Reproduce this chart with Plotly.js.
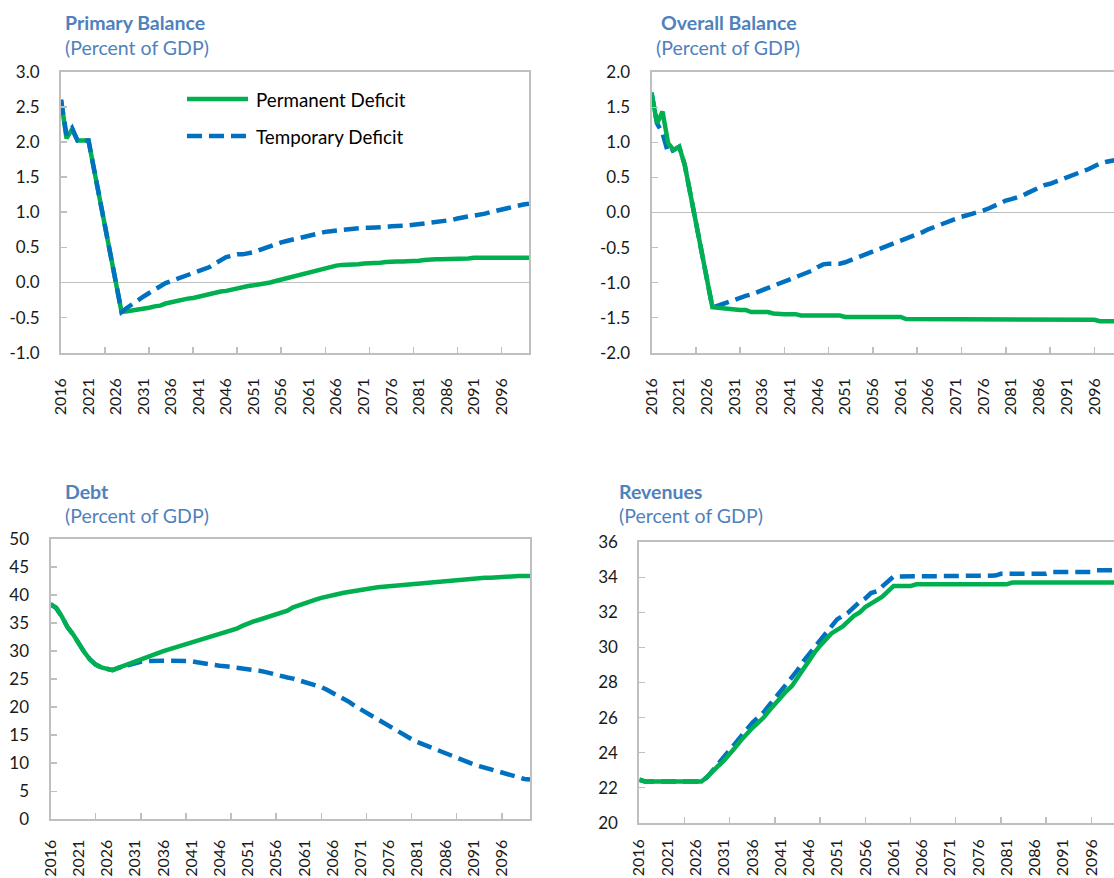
<!DOCTYPE html>
<html>
<head>
<meta charset="utf-8">
<script src="https://cdn.plot.ly/plotly-3.0.1.min.js"></script>
<style>
  html, body { margin: 0; padding: 0; background: #ffffff; overflow: hidden; }
  #chart { width: 1130px; height: 878px; }
</style>
</head>
<body>
<div id="chart"></div>
<script>
// ---------------- DATA ----------------
const YEARS = [2016,2017,2018,2019,2020,2021,2022,2023,2024,2025,
  2026,2027,2028,2029,2030,2031,2032,2033,2034,2035,
  2036,2037,2038,2039,2040,2041,2042,2043,2044,2045,
  2046,2047,2048,2049,2050,2051,2052,2053,2054,2055,
  2056,2057,2058,2059,2060,2061,2062,2063,2064,2065,
  2066,2067,2068,2069,2070,2071,2072,2073,2074,2075,
  2076,2077,2078,2079,2080,2081,2082,2083,2084,2085,
  2086,2087,2088,2089,2090,2091,2092,2093,2094,2095,
  2096,2097,2098,2099,2100,2101];

const LABEL_YEARS = [2016,2021,2026,2031,2036,2041,2046,2051,2056,2061,2066,2071,2076,2081,2086,2091,2096];
const TICK_YEARS = [2024,2032,2040,2048,2056,2064,2072,2080,2088,2096];

const SERIES_NAMES = ['Permanent Deficit', 'Temporary Deficit'];

// Primary balance (percent of GDP)
const PB_PERM = [2.60,2.05,2.18,2.02,2.02,2.02,1.61,1.21,0.80,0.39,
  -0.02,-0.42,-0.41,-0.40,-0.39,-0.37,-0.36,-0.34,-0.33,-0.30,
  -0.28,-0.27,-0.25,-0.23,-0.22,-0.20,-0.19,-0.17,-0.15,-0.13,
  -0.12,-0.10,-0.08,-0.07,-0.05,-0.04,-0.03,-0.02,0.00,0.02,
  0.04,0.06,0.08,0.10,0.12,0.15,0.17,0.18,0.20,0.23,
  0.24,0.25,0.25,0.25,0.26,0.27,0.27,0.27,0.28,0.29,
  0.30,0.30,0.30,0.30,0.30,0.31,0.32,0.33,0.33,0.33,
  0.33,0.33,0.33,0.33,0.34,0.35,0.35,0.35,0.35,0.35,
  0.35,0.35,0.35,0.35,0.35,0.35];
const PB_TEMP = [2.60,2.10,2.20,2.02,2.02,2.02,1.61,1.21,0.80,0.39,
  -0.02,-0.42,-0.36,-0.30,-0.25,-0.20,-0.15,-0.10,-0.05,-0.01,
  0.02,0.05,0.08,0.11,0.14,0.17,0.20,0.22,0.27,0.32,
  0.36,0.38,0.40,0.40,0.41,0.43,0.46,0.49,0.52,0.55,
  0.57,0.59,0.61,0.63,0.65,0.66,0.68,0.70,0.72,0.73,
  0.74,0.74,0.75,0.76,0.77,0.78,0.78,0.78,0.78,0.79,
  0.80,0.80,0.80,0.81,0.82,0.83,0.84,0.84,0.85,0.86,
  0.87,0.89,0.91,0.93,0.94,0.95,0.96,0.98,1.00,1.02,
  1.03,1.05,1.07,1.09,1.11,1.12];

// Overall balance (percent of GDP)
const OB_PERM = [1.71,1.27,1.44,0.99,0.89,0.94,0.68,0.28,-0.14,-0.52,
  -0.92,-1.35,-1.36,-1.37,-1.38,-1.39,-1.39,-1.39,-1.42,-1.42,
  -1.42,-1.42,-1.44,-1.45,-1.45,-1.45,-1.45,-1.47,-1.47,-1.47,
  -1.47,-1.47,-1.47,-1.47,-1.47,-1.49,-1.49,-1.49,-1.49,-1.49,
  -1.49,-1.49,-1.49,-1.49,-1.49,-1.49,-1.52,-1.52,-1.52,-1.52,
  -1.52,-1.52,-1.52,-1.52,-1.52,-1.52,-1.52,-1.52,-1.52,-1.52,
  -1.52,-1.52,-1.52,-1.52,-1.52,-1.52,-1.52,-1.52,-1.52,-1.52,
  -1.52,-1.52,-1.52,-1.52,-1.52,-1.52,-1.52,-1.52,-1.52,-1.52,
  -1.53,-1.55,-1.55,-1.55,-1.55,-1.55];
const OB_TEMP = [1.71,1.27,1.13,0.85,0.89,0.94,0.68,0.28,-0.14,-0.52,
  -0.92,-1.35,-1.33,-1.30,-1.27,-1.24,-1.21,-1.19,-1.17,-1.14,
  -1.11,-1.07,-1.04,-1.01,-0.98,-0.95,-0.92,-0.89,-0.86,-0.83,
  -0.78,-0.74,-0.73,-0.73,-0.73,-0.71,-0.68,-0.64,-0.61,-0.58,
  -0.55,-0.52,-0.49,-0.46,-0.44,-0.41,-0.38,-0.35,-0.31,-0.28,
  -0.24,-0.21,-0.18,-0.14,-0.11,-0.08,-0.06,-0.04,-0.02,0.00,
  0.03,0.06,0.10,0.14,0.17,0.19,0.21,0.24,0.28,0.32,
  0.36,0.39,0.41,0.44,0.47,0.50,0.53,0.55,0.58,0.62,
  0.66,0.70,0.72,0.74,0.75,0.76];

// Debt (percent of GDP)
const DEBT_PERM = [38.4,37.7,36.2,34.3,33.0,31.2,29.8,28.5,27.6,27.1,
  26.8,26.6,27.0,27.4,27.7,28.1,28.5,28.9,29.3,29.6,
  30.0,30.3,30.6,30.9,31.2,31.5,31.8,32.1,32.4,32.7,
  33.0,33.2,33.5,34.0,34.5,35.0,35.3,35.6,35.9,36.2,
  36.5,36.8,37.2,37.8,38.2,38.6,38.9,39.2,39.5,39.8,
  40.0,40.2,40.4,40.6,40.8,41.0,41.1,41.3,41.4,41.5,
  41.6,41.7,41.8,41.9,42.0,42.1,42.2,42.3,42.4,42.5,
  42.6,42.7,42.7,42.8,42.9,43.0,43.0,43.1,43.1,43.2,
  43.3,43.3,43.4,43.4,43.4,43.4];
const DEBT_TEMP = [38.4,37.7,36.2,34.3,33.0,31.2,29.8,28.5,27.6,27.1,
  26.8,26.6,27.0,27.3,27.5,27.8,28.1,28.2,28.3,28.3,
  28.3,28.3,28.3,28.3,28.2,28.2,28.0,27.8,27.6,27.5,
  27.4,27.3,27.2,27.1,26.9,26.8,26.7,26.5,26.3,26.0,
  25.8,25.5,25.3,25.1,24.8,24.6,24.2,23.9,23.6,23.1,
  22.6,22.1,21.5,20.9,20.2,19.6,19.0,18.4,17.8,17.1,
  16.5,15.9,15.3,14.8,14.3,13.8,13.4,13.0,12.6,12.2,
  11.8,11.2,10.8,10.4,10.1,9.8,9.5,9.2,8.9,8.6,
  8.2,7.9,7.6,7.4,7.2,7.1];

// Revenues (percent of GDP)
const REV_PERM = [22.45,22.35,22.35,22.35,22.35,22.35,22.35,22.35,22.35,22.35,
  22.35,22.35,22.6,22.95,23.25,23.55,23.9,24.3,24.7,25.1,
  25.4,25.7,26.0,26.4,26.8,27.2,27.5,27.8,28.3,28.8,
  29.2,29.7,30.1,30.5,30.8,31.0,31.2,31.5,31.8,32.0,
  32.3,32.5,32.7,32.9,33.2,33.5,33.5,33.5,33.5,33.6,
  33.6,33.6,33.6,33.6,33.6,33.6,33.6,33.6,33.6,33.6,
  33.6,33.6,33.6,33.6,33.6,33.6,33.7,33.7,33.7,33.7,
  33.7,33.7,33.7,33.7,33.7,33.7,33.7,33.7,33.7,33.7,
  33.7,33.7,33.7,33.7,33.7,33.7];
const REV_TEMP = [22.45,22.35,22.35,22.35,22.35,22.35,22.35,22.35,22.35,22.35,
  22.35,22.35,22.6,23.0,23.35,23.7,24.1,24.5,24.9,25.3,
  25.7,26.0,26.3,26.7,27.1,27.5,27.8,28.2,28.7,29.2,
  29.6,30.1,30.5,30.9,31.3,31.6,31.8,32.0,32.3,32.6,
  32.8,33.1,33.2,33.5,33.8,34.05,34.05,34.05,34.05,34.1,
  34.1,34.1,34.1,34.1,34.1,34.1,34.1,34.1,34.1,34.1,
  34.1,34.1,34.1,34.1,34.2,34.2,34.2,34.2,34.2,34.2,
  34.2,34.2,34.2,34.3,34.3,34.3,34.3,34.3,34.3,34.3,
  34.3,34.4,34.4,34.4,34.4,34.4];

// Axis tick labels
const PB_TICKS = [-1,-0.5,0,0.5,1,1.5,2,2.5,3];
const PB_TICKTEXT = ['-1.0','-0.5','0.0','0.5','1.0','1.5','2.0','2.5','3.0'];
const OB_TICKS = [-2,-1.5,-1,-0.5,0,0.5,1,1.5,2];
const OB_TICKTEXT = ['-2.0','-1.5','-1.0','-0.5','0.0','0.5','1.0','1.5','2.0'];
const DEBT_TICKS = [0,5,10,15,20,25,30,35,40,45,50];
const DEBT_TICKTEXT = ['0','5','10','15','20','25','30','35','40','45','50'];
const REV_TICKS = [20,22,24,26,28,30,32,34,36];
const REV_TICKTEXT = ['20','22','24','26','28','30','32','34','36'];

const PANEL_TITLES = ['Primary Balance', 'Overall Balance', 'Debt', 'Revenues'];
const PANEL_SUBTITLE = '(Percent of GDP)';

// ---------------- STYLE ----------------
const W = 1130, H = 878;
const GREEN = '#00B050', BLUE = '#0070C0';
const AXIS_GRAY = '#BFBFBF';
const TITLE_BLUE = '#4F81BD';
const FONT = 'Lato, "Open Sans", sans-serif';
const Y_TICK_FONT = {family: FONT, size: 17, color: '#1a1a1a'};
const X_TICK_FONT = {family: FONT, size: 16, color: '#1a1a1a'};
const LW = 4.5;
const DASH = '15px,7px';

const px = x => x / W;
const py = y => 1 - y / H;

function xAxis(left, right, anchor, standoff) {
  return {
    domain: [px(left), px(right)], anchor: anchor,
    range: [YEARS[0], YEARS[YEARS.length - 1]],
    tickmode: 'array', tickvals: LABEL_YEARS, ticktext: LABEL_YEARS.map(String),
    tickangle: -90, ticks: '', tickfont: X_TICK_FONT, ticklabelstandoff: standoff,
    showline: true, linecolor: AXIS_GRAY, linewidth: 2, mirror: true,
    showgrid: false, zeroline: false, fixedrange: true,
    minor: {tickmode: 'array', tickvals: TICK_YEARS.map(v => v + 0.001),
            ticks: 'inside', ticklen: 6, tickwidth: 1.5, tickcolor: AXIS_GRAY, showgrid: false}
  };
}
function yAxis(top, bottom, anchor, ticks, text, range, zero) {
  return {
    domain: [py(bottom), py(top)], anchor: anchor, range: range,
    tickmode: 'array', tickvals: ticks, ticktext: text,
    ticks: 'inside', ticklen: 6, tickwidth: 1.5, tickcolor: AXIS_GRAY,
    tickfont: Y_TICK_FONT, ticklabelstandoff: 16,
    showline: true, linecolor: AXIS_GRAY, linewidth: 2, mirror: true,
    showgrid: false, zeroline: zero, zerolinecolor: AXIS_GRAY, zerolinewidth: 1.5,
    fixedrange: true
  };
}
function line(x, y, xa, ya, name, color, dash) {
  return {type: 'scatter', mode: 'lines', x: x, y: y, xaxis: xa, yaxis: ya, name: name,
          showlegend: false, hoverinfo: 'skip',
          line: {color: color, width: LW, dash: dash}};
}

const traces = [
  line(YEARS, PB_PERM, 'x', 'y', SERIES_NAMES[0], GREEN, 'solid'),
  line(YEARS, PB_TEMP, 'x', 'y', SERIES_NAMES[1], BLUE, DASH),
  line(YEARS, OB_TEMP, 'x2', 'y2', SERIES_NAMES[1], BLUE, DASH),
  line(YEARS, OB_PERM, 'x2', 'y2', SERIES_NAMES[0], GREEN, 'solid'),
  line(YEARS, DEBT_TEMP, 'x3', 'y3', SERIES_NAMES[1], BLUE, DASH),
  line(YEARS, DEBT_PERM, 'x3', 'y3', SERIES_NAMES[0], GREEN, 'solid'),
  line(YEARS, REV_TEMP, 'x4', 'y4', SERIES_NAMES[1], BLUE, DASH),
  line(YEARS, REV_PERM, 'x4', 'y4', SERIES_NAMES[0], GREEN, 'solid')
];

function titleAnn(text, x, y, bold) {
  return {xref: 'paper', yref: 'paper', x: px(x), y: py(y), xanchor: 'left', yanchor: 'middle',
          showarrow: false, text: bold ? '<b>' + text + '</b>' : text,
          font: {family: FONT, size: 19.5, color: TITLE_BLUE}};
}
function legendText(text, x, y) {
  return {xref: 'paper', yref: 'paper', x: px(x), y: py(y), xanchor: 'left', yanchor: 'middle',
          showarrow: false, text: text, font: {family: FONT, size: 18.8, color: '#000000'}};
}

const annotations = [
  titleAnn(PANEL_TITLES[0], 63, 22.5, true),
  titleAnn(PANEL_SUBTITLE, 63, 47, false),
  titleAnn(PANEL_TITLES[1], 659, 22.5, true),
  titleAnn(PANEL_SUBTITLE, 654, 47, false),
  titleAnn(PANEL_TITLES[2], 63, 491, true),
  titleAnn(PANEL_SUBTITLE, 63, 515.5, false),
  titleAnn(PANEL_TITLES[3], 617, 491, true),
  titleAnn(PANEL_SUBTITLE, 617, 515.5, false),
  legendText(SERIES_NAMES[0], 254, 99.5),
  legendText(SERIES_NAMES[1], 254, 136.5)
];

const shapes = [
  {type: 'line', xref: 'paper', yref: 'paper', x0: px(187), x1: px(248), y0: py(99), y1: py(99),
   line: {color: GREEN, width: LW}},
  {type: 'line', xref: 'paper', yref: 'paper', x0: px(187), x1: px(248), y0: py(136), y1: py(136),
   line: {color: BLUE, width: LW, dash: DASH}}
];

const layout = {
  width: W, height: H,
  margin: {l: 0, r: 0, t: 0, b: 0, pad: 0},
  paper_bgcolor: '#ffffff', plot_bgcolor: '#ffffff',
  showlegend: false,
  font: {family: FONT, color: '#1a1a1a'},
  xaxis:  xAxis(61, 529, 'y', 17),
  yaxis:  yAxis(71.7, 352.7, 'x', PB_TICKS, PB_TICKTEXT, [-1, 3], true),
  xaxis2: xAxis(651.5, 1122, 'y2', 17),
  yaxis2: yAxis(72.3, 352.7, 'x2', OB_TICKS, OB_TICKTEXT, [-2, 2], true),
  xaxis3: xAxis(50.5, 530, 'y3', 12),
  yaxis3: yAxis(539, 819.3, 'x3', DEBT_TICKS, DEBT_TICKTEXT, [0, 50], false),
  xaxis4: xAxis(639.3, 1119.6, 'y4', 8),
  yaxis4: yAxis(542.3, 822.7, 'x4', REV_TICKS, REV_TICKTEXT, [20, 36], false),
  annotations: annotations,
  shapes: shapes
};

Plotly.newPlot('chart', traces, layout, {displayModeBar: false, staticPlot: true});
</script>
</body>
</html>
